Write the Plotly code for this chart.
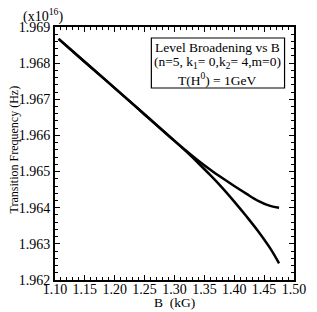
import plotly.graph_objects as go

B = [1.106, 1.15, 1.20, 1.25, 1.30, 1.32, 1.34, 1.36, 1.38, 1.40, 1.42, 1.44, 1.46, 1.475]
upper = [1.96867, 1.96803, 1.96731, 1.96658, 1.96585, 1.96557, 1.96530, 1.96505,
         1.96482, 1.96460, 1.96439, 1.96419, 1.96405, 1.96400]
lower = [1.96867, 1.96803, 1.96731, 1.96658, 1.96585, 1.96555, 1.96523, 1.96490,
         1.96455, 1.96417, 1.96377, 1.96335, 1.96288, 1.96246]
legend_lines = ["Level Broadening vs B",
                "(n=5, k<sub>1</sub>= 0,k<sub>2</sub>= 4,m=0)",
                "T(H<sup>0</sup>) = 1GeV"]

FONT = "Liberation Serif"
TS = 14
OFF = 8  # page body margin
W, H = 317 - OFF, 312 - OFF
# plot area in screen pixels: x 53..306, y 27..280
L, R, T, Bm = 53 - OFF, 317 - 306, 27 - OFF, 312 - 280
PW, PH = W - L - R, H - T - Bm

def px(x):
    return (x - OFF - L) / PW

def py(y):
    return (H - Bm - (y - OFF)) / PH

fig = go.Figure()
for ys in (upper, lower):
    fig.add_trace(go.Scatter(x=B, y=ys, mode="lines", line=dict(color="black", width=2.5, shape="spline"),
                             showlegend=False))

axis_common = dict(showgrid=False, zeroline=False, ticks="inside", mirror="allticks",
                   showline=True, linecolor="black", linewidth=2, tickcolor="black",
                   ticklen=5, tickwidth=1.2, tickfont=dict(family=FONT, size=TS, color="black"))
fig.update_xaxes(range=[1.10, 1.50], tick0=1.10, dtick=0.05, tickformat=".2f",
                 minor=dict(dtick=0.01, ticks="inside", ticklen=3, tickcolor="black"),
                 ticklabelstandoff=-5, **axis_common)
fig.update_yaxes(range=[1.962, 1.969], tick0=1.962, dtick=0.001, tickformat=".3f",
                 minor=dict(dtick=0.0002, ticks="inside", ticklen=3, tickcolor="black"),
                 **axis_common)

fig.add_annotation(xref="paper", yref="paper", x=px(179.5), y=py(302), xanchor="center", yanchor="middle",
                   text="B  (kG)", showarrow=False, font=dict(family=FONT, size=13.5, color="black"))
fig.add_annotation(xref="paper", yref="paper", x=px(10), y=py(149), xanchor="center", yanchor="middle",
                   text="Transition Frequency (Hz)", textangle=-90, showarrow=False,
                   font=dict(family=FONT, size=12, color="black"))
fig.add_annotation(xref="paper", yref="paper", x=px(17), y=py(15), xanchor="left", yanchor="middle",
                   text="(x10<sup>16</sup>)", showarrow=False, font=dict(family=FONT, size=TS, color="black"))

fig.add_shape(type="rect", xref="paper", yref="paper", x0=px(155), x1=px(296), y0=py(88), y1=py(38),
              line=dict(color="black", width=1.2), fillcolor="white", layer="above")
for txt, yy in zip(legend_lines, [47, 63, 79]):
    fig.add_annotation(xref="paper", yref="paper", x=px(225.5), y=py(yy), xanchor="center", yanchor="middle",
                       text=txt, showarrow=False, font=dict(family=FONT, size=13.5, color="black"))

fig.update_layout(width=W, height=H, margin=dict(l=L, r=R, t=T, b=Bm),
                  plot_bgcolor="white", paper_bgcolor="white")
fig.write_html("out.html")
